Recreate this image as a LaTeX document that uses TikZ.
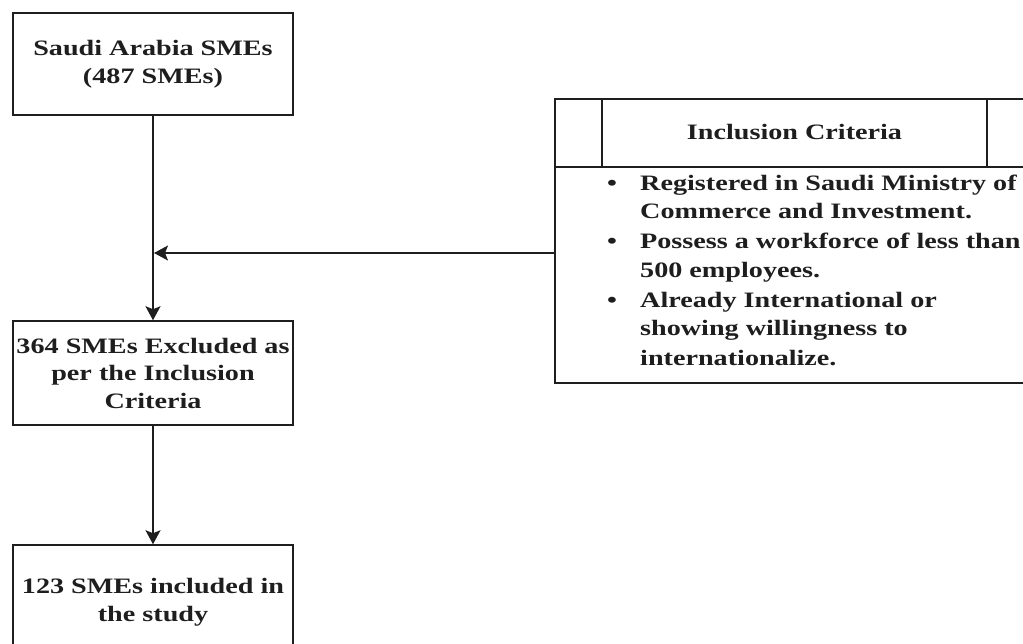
\documentclass[tikz,border=0pt]{standalone}
\usepackage{fontspec}
\setmainfont{Liberation Serif}[FakeStretch=1.28]
\usetikzlibrary{arrows.meta}
\definecolor{ink}{HTML}{1E1E1E}
\tikzset{
  box/.style={draw=ink, line width=1.5pt, minimum width=280pt, align=center, inner sep=0pt},
  txt/.style={text=ink, font=\fontsize{22}{27.5}\selectfont\bfseries},
  arr/.style={draw=ink, line width=1.5pt, -{Stealth[length=14pt,width=15pt,inset=3pt]}},
  rule/.style={draw=ink, line width=1.5pt},
  li/.style={txt, anchor=base west, inner sep=0pt}
}
\begin{document}
\begin{tikzpicture}[x=1pt,y=-1pt]
\useasboundingbox (0,0) rectangle (1023,643);
\node[box, txt, minimum height=102pt] (b1) at (153,64) {Saudi Arabia SMEs\\(487 SMEs)};
\node[box, txt, minimum height=104pt] (b2) at (153,373) {364 SMEs Excluded as\\per the Inclusion\\Criteria};
\node[box, txt, minimum height=114pt] (b3) at (153,602) {123 SMEs included in\\the study};
% criteria box
\node[rule, minimum width=480pt, minimum height=284pt, anchor=north west, inner sep=0pt] (crit) at (554,98) {};
\draw[rule] (554,167) -- (1034,167);
\draw[rule] (602,98) -- (602,167);
\draw[rule] (987,98) -- (987,167);
\node[txt, inner sep=0pt] (hdr) at (794.5,132) {Inclusion Criteria};
\node[li] (u1) at (607,190) {\textbullet};
\node[li] (u2) at (607,248) {\textbullet};
\node[li] (u3) at (607,307) {\textbullet};
\node[li] (l1) at (640,190) {Registered in Saudi Ministry of};
\node[li] (l2) at (640,218) {Commerce and Investment.};
\node[li] (l3) at (640,248) {Possess a workforce of less than};
\node[li] (l4) at (640,277) {500 employees.};
\node[li] (l5) at (640,307) {Already International or};
\node[li] (l6) at (640,335) {showing willingness to};
\node[li] (l7) at (640,365) {internationalize.};
% connectors
\coordinate (cin) at (554,253);
\coordinate (jn) at (154,253);
\draw[arr] (b1.south) -- (b2.north);
\draw[arr] (cin) -- (jn);
\draw[arr] (b2.south) -- (b3.north);
\end{tikzpicture}
\end{document}
